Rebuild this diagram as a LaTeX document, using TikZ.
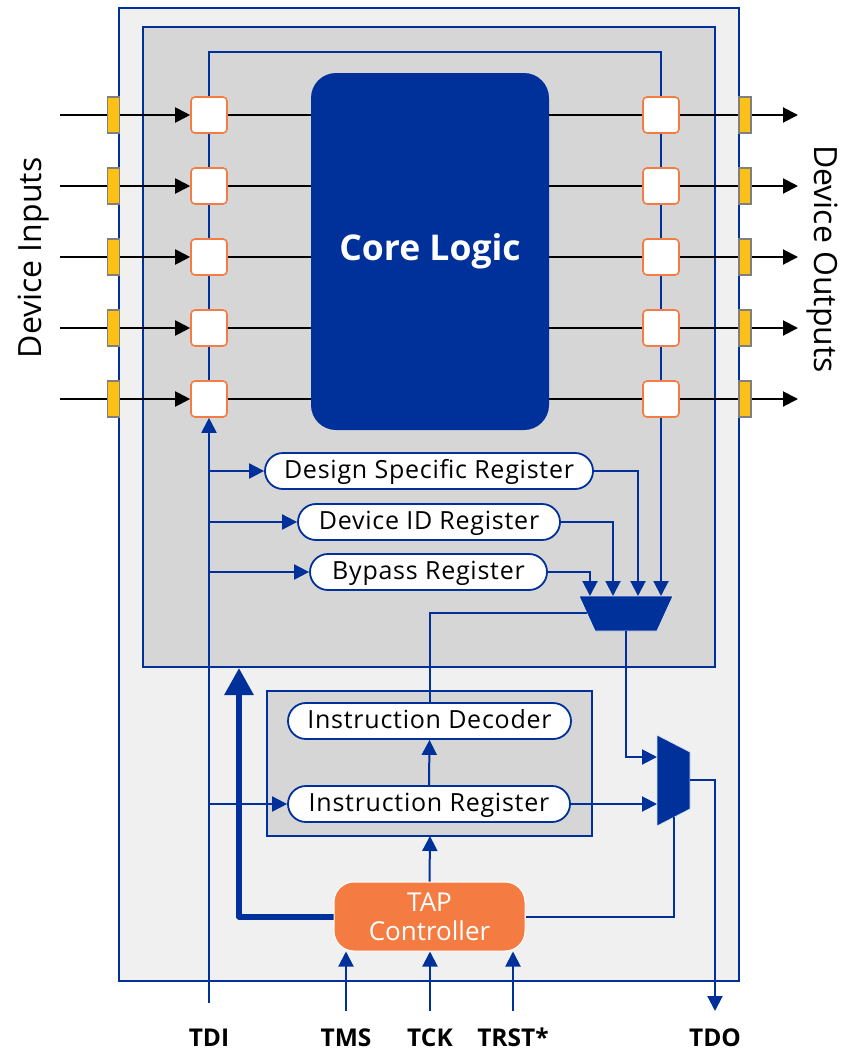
\documentclass[tikz,border=0pt]{standalone}
\usepackage{fontspec}
\setmainfont{Open Sans}
\newfontfamily\regfont[LetterSpace=3]{Open Sans}
\usetikzlibrary{arrows.meta}
\definecolor{jblue}{HTML}{00309A}
\definecolor{lgray}{HTML}{F0F0F0}
\definecolor{mgray}{HTML}{D6D6D6}
\definecolor{corange}{HTML}{F47C43}
\definecolor{pinyellow}{HTML}{FBC117}
\definecolor{pingray}{HTML}{7F7F7F}
\tikzset{
  cell/.style={draw=corange, fill=white, line width=1.6pt, rounded corners=4pt, minimum size=36pt, inner sep=0pt},
  pinbox/.style={draw=pingray, fill=pinyellow, line width=1.2pt, minimum width=12pt, minimum height=36pt, inner sep=0pt},
  reg/.style={draw=jblue, fill=white, line width=1.8pt, rounded corners=18pt, minimum height=36pt, inner sep=0pt,
      text height=18pt, text depth=4pt, font=\regfont\fontsize{25}{30}\selectfont},
  bl/.style={draw=jblue, line width=2pt},
  blk/.style={draw=black, line width=2pt},
  barr/.style={-{Triangle[length=15pt,width=15pt]}},
  karr/.style={-{Triangle[length=15pt,width=15pt]}},
  pinlabel/.style={font=\fontsize{24.5}{28}\selectfont\bfseries, anchor=base},
  sidelabel/.style={font=\fontsize{32}{36}\selectfont},
  tapbox/.style={fill=corange, draw=white, line width=1pt, rounded corners=20pt, minimum width=191pt, minimum height=69pt,
      inner sep=0pt, text=white, align=center, font=\fontsize{26}{29}\selectfont},
}
\begin{document}
\begin{tikzpicture}[x=1pt,y=-1pt]
\useasboundingbox (0,0) rectangle (848,1050);
% frames
\draw[jblue, line width=2pt, fill=lgray] (119,8) rectangle (739,981);
\draw[jblue, line width=2pt, fill=mgray] (143,27) rectangle (715,667);
\draw[jblue, line width=2pt, fill=mgray] (267,691) rectangle (592,836);

% core
\node[fill=jblue, rounded corners=25pt, minimum width=238pt, minimum height=357pt, inner sep=0pt,
      text=white, font=\fontsize{35.5}{40}\selectfont\bfseries] (core) at (430,251.5) {Core Logic};

% boundary scan cells, pins, io lines
\foreach \i/\y in {1/115,2/186,3/257,4/328,5/399}{
  \node[cell] (L\i) at (209,\y) {};
  \node[cell] (R\i) at (661,\y) {};
  \coordinate (in\i) at (60,\y);
  \coordinate (out\i) at (798,\y);
  \draw[blk, karr] (in\i) -- (L\i.west);
  \draw[blk] (L\i.east) -- (L\i.east -| core.west);
  \draw[blk] (R\i.west -| core.east) -- (R\i.west);
  \draw[blk, karr] (R\i.east) -- (out\i);
  \node[pinbox] (PL\i) at (113.5,\y) {};
  \node[pinbox] (PR\i) at (745,\y) {};
}
% scan chain
\draw[bl] (L1.north) -- (209,52) -- (661,52) -- (R1.north);
\foreach \a/\b in {1/2,2/3,3/4,4/5}{
  \draw[bl] (L\a.south) -- (L\b.north);
  \draw[bl] (R\a.south) -- (R\b.north);
}

% registers
\node[reg, minimum width=328pt] (dsr) at (429,471) {Design Specific Register};
\node[reg, minimum width=262pt] (did) at (429,522) {Device ID Register};
\node[reg, minimum width=237pt] (byp) at (428.5,572) {Bypass Register};
\node[reg, minimum width=283pt] (idec) at (429.5,721) {Instruction Decoder};
\node[reg, minimum width=282pt] (ireg) at (429,804) {Instruction Register};

% mux 1
\fill[jblue, draw=white!85!jblue, line width=0.8pt] (579,596) -- (673,596) -- (657,631) -- (595,631) -- cycle;
\coordinate (m1a) at (590,596);
\coordinate (m1b) at (613,596);
\coordinate (m1c) at (638,596);
\coordinate (m1d) at (661,596);
\coordinate (m1sel) at (587,613);
\coordinate (m1out) at (626,631);
% mux 2
\fill[jblue, draw=white!85!jblue, line width=0.8pt] (657,735) -- (690,752) -- (690,809) -- (657,826) -- cycle;
\coordinate (m2a) at (657,757);
\coordinate (m2b) at (657,804);
\coordinate (m2out) at (690,780);
\coordinate (m2sel) at (674,817);

% TAP controller (placed first for anchors)
\node[tapbox] (tap) at (429.5,916.5) {TAP\\Controller};

% TDI and register feeds
\coordinate (tdi) at (209,1003);
\draw[bl, barr] (tdi) -- (L5.south);
\draw[bl, barr] (209,471) -- (dsr.west);
\draw[bl, barr] (209,522) -- (did.west);
\draw[bl, barr] (209,572) -- (byp.west);
\draw[bl, barr] (209,804) -- (ireg.west);

% into mux 1
\draw[bl, barr] (dsr.east) -| (m1c);
\draw[bl, barr] (did.east) -| (m1b);
\draw[bl, barr] (byp.east) -| (m1a);
\draw[bl, barr] (R5.south) -- (m1d);
\draw[bl] (idec.north) |- (m1sel);
\draw[bl, barr] (ireg.north) -- (idec.south);

% mux1 -> mux2
\draw[bl, barr] (m1out) |- (m2a);
\draw[bl, barr] (ireg.east) -- (m2b);
\coordinate (tdo) at (715,1011);
\draw[bl, barr] (m2out) -| (tdo);
\draw[bl] (m2sel) |- (tap.east);

% thick control arrow
\coordinate (thk) at (239,668);
\draw[jblue, line width=6pt, line join=round, -{Triangle[length=27pt,width=28pt]}] (tap.west) -| (thk);
\node[tapbox] at (tap) {TAP\\Controller};

% TAP into instruction block
\draw[bl, barr] (tap.north) -- (430,836);

% TAP inputs
\coordinate (tms) at (346,1011);
\coordinate (tck) at (430,1011);
\coordinate (trst) at (513,1011);
\draw[bl, barr] (tms) -- (tms |- tap.south);
\draw[bl, barr] (tck) -- (tck |- tap.south);
\draw[bl, barr] (trst) -- (trst |- tap.south);

% labels
\node[pinlabel] (ltdi) at (209,1046) {TDI};
\node[pinlabel] (ltms) at (346,1046) {TMS};
\node[pinlabel] (ltck) at (430,1046) {TCK};
\node[pinlabel] (ltrst) at (513,1046) {TRST*};
\node[pinlabel] (ltdo) at (715,1046) {TDO};
\node[sidelabel, rotate=90] (din) at (34,258) {Device Inputs};
\node[sidelabel, rotate=-90] (dout) at (822,259) {Device Outputs};
\end{tikzpicture}
\end{document}
